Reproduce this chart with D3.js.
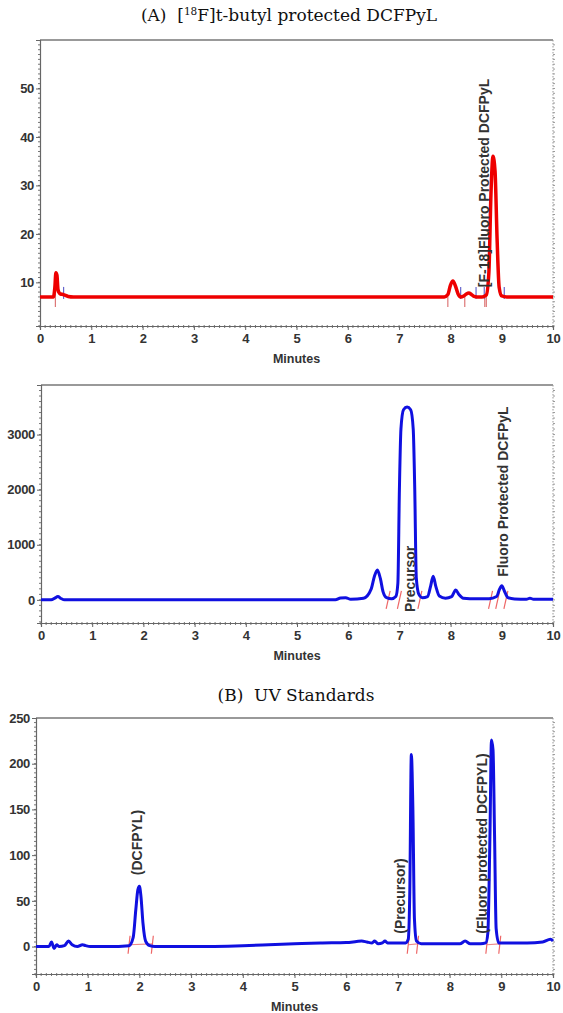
<!DOCTYPE html>
<html><head><meta charset="utf-8">
<script src="https://cdn.jsdelivr.net/npm/d3@7"></script>
<style>
html,body{margin:0;padding:0;background:#fff;}
svg{display:block;}
</style></head>
<body>
<script>
// ---------- DATA ----------
const xTicks = [0,1,2,3,4,5,6,7,8,9,10];

// Panel 1: radio trace (red)
const p1Time = [0,0.26,0.29,0.31,0.33,0.35,0.37,0.40,0.45,0.55,0.65,7.88,7.95,8.0,8.05,8.1,8.15,8.2,8.26,8.31,8.36,8.41,8.46,8.52,8.62,8.7,8.75,8.79,8.83,8.87,8.91,8.95,9.0,9.1,10];
const p1Val  = [7,7,9,12,11.5,8.6,7.9,7.6,7.5,7.1,7,7,7.5,9.4,10.3,9.2,7.6,7.0,7.2,7.6,7.8,7.5,7.1,7.0,7.0,7.4,12,28,36,33,19,9,7.2,7,7];
const p1YTicks = [10,20,30,40,50];
const p1RedMarks = [0.3,7.95,8.28,8.67,8.7];
const p1BlueMarks = [0.46,8.2,8.5,8.66,9.05];

// Panel 2: UV trace (blue)
const p2Time = [0,0.2,0.27,0.33,0.39,0.46,5.75,5.85,5.95,6.05,6.3,6.45,6.51,6.57,6.63,6.68,6.75,6.85,6.93,6.97,7.0,7.03,7.08,7.15,7.22,7.27,7.3,7.33,7.38,7.45,7.55,7.61,7.66,7.71,7.78,7.9,8.02,8.1,8.16,8.25,8.5,8.75,8.9,8.95,9.0,9.05,9.12,9.25,9.48,9.55,9.62,10];
const p2Val  = [0,0,30,60,25,0,0,35,40,10,30,200,420,540,380,150,40,20,60,300,2000,3100,3450,3500,3450,3100,2000,400,100,40,60,250,430,250,70,30,60,180,100,30,20,20,60,180,255,160,40,15,10,30,10,10];
const p2YTicks = [0,1000,2000,3000];
const p2RedMarks = [6.78,7.0,7.4,8.78,8.92,9.08];

// Panel 3: UV standards (blue)
const p3Time = [0,0.25,0.3,0.35,0.4,0.45,0.55,0.63,0.7,0.8,0.9,0.96,1.05,1.4,1.8,1.88,1.93,1.97,2.0,2.03,2.07,2.12,2.2,2.3,3,4,4.5,5,5.5,6,6.2,6.3,6.4,6.5,6.55,6.62,6.7,6.75,6.8,7.0,7.15,7.2,7.23,7.26,7.29,7.32,7.36,7.45,8.0,8.2,8.3,8.4,8.6,8.7,8.74,8.78,8.81,8.84,8.87,8.9,8.95,9.0,9.5,9.8,9.95,10];
const p3Val  = [0,0,5,-2,2,0,1,6,2,0,2,1,0,0,1,10,40,62,66,55,25,6,1,0,0,1,2,3,4,4.5,5.5,6,5,4,6,3,4,6,4,4,4,8,60,210,150,30,6,3,3,3,6,3,3,4,15,120,226,215,120,20,4,4,4,5,8,6];
const p3YTicks = [0,50,100,150,200,250];
const p3RedMarks = [1.8,2.25,7.2,7.38,8.72,8.97];

// Peak labels: text, retention time, value where text starts
const p1Labels = [{text:"[F-18]Fluoro Protected DCFPyL", t:8.76, v:9}];
const p2Labels = [{text:"Precursor", t:7.3, v:-220},{text:"Fluoro Protected DCFPyL", t:9.12, v:420}];
const p3Labels = [{text:"(DCFPYL)", t:2.05, v:78},{text:"(Precursor)", t:7.14, v:14},{text:"(Fluoro protected DCFPYL)", t:8.72, v:14}];

// ---------- DRAW ----------
const W = 563, H = 1013;
const svg = d3.select("body").append("svg").attr("width",W).attr("height",H);
const tickFont = "'Liberation Sans', Arial, sans-serif";

function panel(cfg){
  const x = d3.scaleLinear().domain([0,10]).range([cfg.left, cfg.right]);
  const y = d3.scaleLinear().domain(cfg.yDomain).range([cfg.bottom, cfg.top]);
  const g = svg.append("g");

  g.append("line").attr("x1",cfg.left).attr("x2",cfg.right).attr("y1",cfg.top).attr("y2",cfg.top)
    .attr("stroke","#777").attr("stroke-width",1.5);
  g.append("line").attr("x1",cfg.right).attr("x2",cfg.right).attr("y1",cfg.top).attr("y2",cfg.bottom)
    .attr("stroke","#999").attr("stroke-width",1).attr("stroke-dasharray","1.5,1.5");
  const yMinor = d3.range(Math.ceil(cfg.yDomain[0]/cfg.yMinor)*cfg.yMinor, cfg.yDomain[1], cfg.yMinor);
  g.selectAll(".ym").data(yMinor).enter().append("line")
    .attr("x1",cfg.left-2).attr("x2",cfg.left+1).attr("y1",d=>y(d)).attr("y2",d=>y(d))
    .attr("stroke","#777").attr("stroke-width",1);
  g.selectAll(".ymr").data(yMinor).enter().append("line")
    .attr("x1",cfg.right).attr("x2",cfg.right+2).attr("y1",d=>y(d)).attr("y2",d=>y(d))
    .attr("stroke","#999").attr("stroke-width",1);
  const xMinor = d3.range(0,10.001,0.1);
  g.selectAll(".xm").data(xMinor).enter().append("line")
    .attr("x1",d=>x(d)).attr("x2",d=>x(d)).attr("y1",cfg.bottom-1).attr("y2",cfg.bottom+2)
    .attr("stroke","#777").attr("stroke-width",1);

  const ax = g.append("g").attr("transform",`translate(0,${cfg.bottom})`)
    .call(d3.axisBottom(x).tickValues(xTicks).tickFormat(d3.format("d")).tickSize(4).tickPadding(4));
  const ay = g.append("g").attr("transform",`translate(${cfg.left},0)`)
    .call(d3.axisLeft(y).tickValues(cfg.yTicks).tickFormat(d3.format("d")).tickSize(4).tickPadding(2));
  [ax,ay].forEach(a=>{
    a.select(".domain").attr("stroke","#666").attr("stroke-width",1.2);
    a.selectAll(".tick line").attr("stroke","#666");
    a.selectAll("text").attr("font-family",tickFont).attr("font-weight","bold")
      .attr("font-size","13px").attr("fill","#333").attr("letter-spacing","-0.3px");
  });

  svg.append("text").attr("x",(cfg.left+cfg.right)/2).attr("y",cfg.bottom+37)
    .attr("text-anchor","middle").attr("font-family",tickFont).attr("font-weight","bold")
    .attr("font-size","12.5px").attr("fill","#333").text("Minutes");

  return {x,y,g};
}

function trace(p, times, vals, color, width){
  const pts = times.map((t,i)=>[t, vals[i]]);
  p.g.append("path").datum(pts)
    .attr("fill","none").attr("stroke",color).attr("stroke-width",width).attr("stroke-linejoin","round")
    .attr("d", d3.line().x(d=>p.x(d[0])).y(d=>p.y(d[1])).curve(d3.curveMonotoneX));
}

function labels(p, list){
  list.forEach(l=>{
    const px = p.x(l.t), py = p.y(l.v);
    p.g.append("text").attr("transform",`translate(${px},${py}) rotate(-90)`)
      .attr("font-family",tickFont).attr("font-weight","bold").attr("font-size","14px")
      .attr("fill","#333").text(l.text);
  });
}

// Titles
const serif = "'DejaVu Serif', 'Liberation Serif', serif";
const t1 = svg.append("text").attr("x",289).attr("y",21).attr("text-anchor","middle")
  .attr("font-family",serif).attr("font-size","17px").attr("fill","#111");
t1.append("tspan").text("(A)\u00a0\u00a0[");
t1.append("tspan").attr("font-size","10.5px").attr("dy","-6").text("18");
t1.append("tspan").attr("dy","6").text("F]t-butyl protected DCFPyL");

svg.append("text").attr("x",296).attr("y",701).attr("text-anchor","middle")
  .attr("font-family",serif).attr("font-size","17px").attr("fill","#111")
  .text("(B)\u00a0\u00a0UV Standards");

// Panel 1
const P1 = panel({left:40,right:553,top:40,bottom:326,yDomain:[1,60],yTicks:p1YTicks,yMinor:1});
const bl1 = P1.y(7);
P1.g.selectAll(".rm").data(p1RedMarks).enter().append("line")
  .attr("x1",d=>P1.x(d)).attr("x2",d=>P1.x(d)).attr("y1",bl1-3).attr("y2",bl1+10)
  .attr("stroke","#d77").attr("stroke-width",1.2);
P1.g.selectAll(".bm").data(p1BlueMarks).enter().append("line")
  .attr("x1",d=>P1.x(d)).attr("x2",d=>P1.x(d)).attr("y1",bl1-10).attr("y2",bl1+2)
  .attr("stroke","#66c").attr("stroke-width",1.2);
trace(P1, p1Time, p1Val, "#ee0000", 3.5);
labels(P1, p1Labels);

// Panel 2
const P2 = panel({left:41,right:553,top:385,bottom:623,yDomain:[-420,3900],yTicks:p2YTicks,yMinor:100});
P2.g.selectAll(".rm").data(p2RedMarks).enter().append("line")
  .attr("x1",d=>P2.x(d)-2).attr("x2",d=>P2.x(d)+2).attr("y1",P2.y(0)+9).attr("y2",P2.y(0)-9)
  .attr("stroke","#e66").attr("stroke-width",1.2);
trace(P2, p2Time, p2Val, "#1010e0", 3);
labels(P2, p2Labels);

// Panel 3
const P3 = panel({left:36,right:553,top:718,bottom:974,yDomain:[-30,250],yTicks:p3YTicks,yMinor:5});
for(let i=0;i<p3RedMarks.length;i+=2){
  P3.g.append("line").attr("x1",P3.x(p3RedMarks[i])).attr("x2",P3.x(p3RedMarks[i+1]))
    .attr("y1",P3.y(2)).attr("y2",P3.y(3)).attr("stroke","#e88").attr("stroke-width",1.2);
}
P3.g.selectAll(".rm").data(p3RedMarks).enter().append("line")
  .attr("x1",d=>P3.x(d)-1).attr("x2",d=>P3.x(d)+1).attr("y1",P3.y(2)+9).attr("y2",P3.y(2)-9)
  .attr("stroke","#e66").attr("stroke-width",1.2);
trace(P3, p3Time, p3Val, "#1010e0", 3);
labels(P3, p3Labels);
</script>
</body></html>
